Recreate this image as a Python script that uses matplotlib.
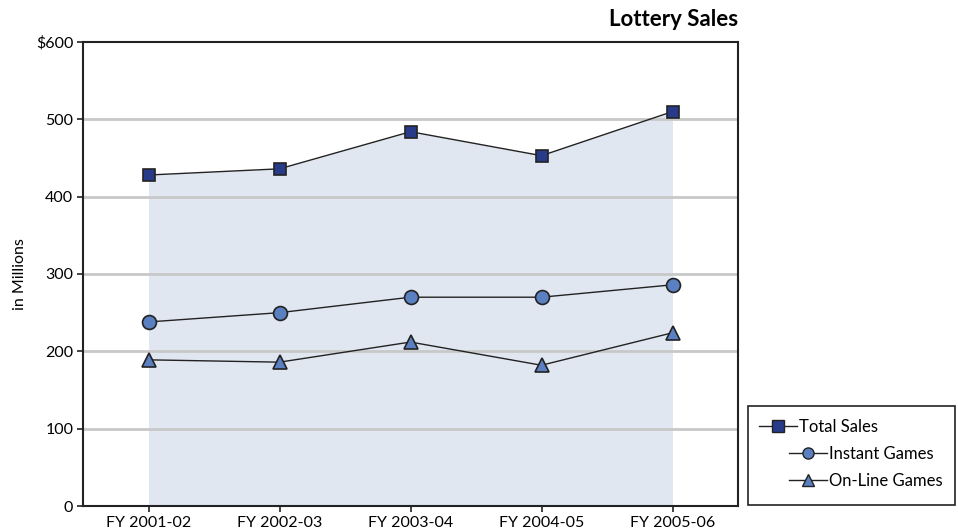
import matplotlib
matplotlib.use("Agg")
import matplotlib.pyplot as plt
from matplotlib.lines import Line2D
from matplotlib.patches import Rectangle

categories = ["FY 2001-02", "FY 2002-03", "FY 2003-04", "FY 2004-05", "FY 2005-06"]
total_sales = [428, 436, 484, 453, 510]
instant_games = [238, 250, 270, 270, 286]
online_games = [189, 186, 212, 182, 224]
y_ticks = [0, 100, 200, 300, 400, 500, 600]
y_tick_labels = ["0", "100", "200", "300", "400", "500", "$600"]
series_names = ["Total Sales", "Instant Games", "On-Line Games"]

plt.rcParams['font.family'] = ['Lato', 'DejaVu Sans']

W, H = 958, 531
fig = plt.figure(figsize=(W/100, H/100), dpi=100)
ax = fig.add_axes([83/W, 1 - 506/H, (738-83)/W, (506-42)/H])

x = list(range(len(categories)))
ax.fill_between(x, 0, total_sales, color="#e1e7f1", zorder=1, linewidth=0)
for yv in y_ticks[1:-1]:
    ax.axhline(yv, color="#c8c8c8", linewidth=2, zorder=2)

edge = "#222222"
styles = [
    dict(marker="s", markersize=9, markerfacecolor="#283a8a"),
    dict(marker="o", markersize=10, markerfacecolor="#5b80c2"),
    dict(marker="^", markersize=10, markerfacecolor="#5b80c2"),
]
for vals, st in zip([total_sales, instant_games, online_games], styles):
    ax.plot(x, vals, color="#222222", linewidth=1, markeredgecolor=edge,
            markeredgewidth=1.2, zorder=4, **st)

ax.set_xlim(-0.5, 4.5)
ax.set_ylim(0, 600)
ax.set_xticks(x)
ax.set_xticklabels(categories, fontsize=11.5)
ax.set_yticks(y_ticks)
ax.set_yticklabels(y_tick_labels, fontsize=11.5)
ax.tick_params(axis="both", direction="out", length=4, width=1.2, color="#222222", pad=3)
for s in ax.spines.values():
    s.set_color("#222222")
    s.set_linewidth(1.5)

fig.text(20/W, 1 - 274/H, "in Millions", rotation=90, ha="center", va="center",
         fontsize=11.5)
fig.text(738/W, 1 - 20/H, "Lottery Sales", ha="right", va="center",
         fontsize=16, fontweight="bold")

# legend box
fig.patches.append(Rectangle((748/W, 1 - 505/H), (955-748)/W, (505-406)/H,
                             transform=fig.transFigure, facecolor="white",
                             edgecolor="#222222", linewidth=1.2, zorder=0))
leg_pos = [(759, 427), (789, 454), (789, 481)]
for name, st, (lx, ly) in zip(series_names, styles, leg_pos):
    st2 = dict(st)
    st2["markersize"] = 8
    h = Line2D([], [], color="#222222", linewidth=1, markeredgecolor=edge, **st2)
    lg = fig.legend([h], [name], loc="center left",
                    bbox_to_anchor=(lx/W, 1 - ly/H), fontsize=12, frameon=False,
                    handlelength=2.3, handletextpad=0.1, borderpad=0, borderaxespad=0)

fig.savefig("out.png", dpi=100)
